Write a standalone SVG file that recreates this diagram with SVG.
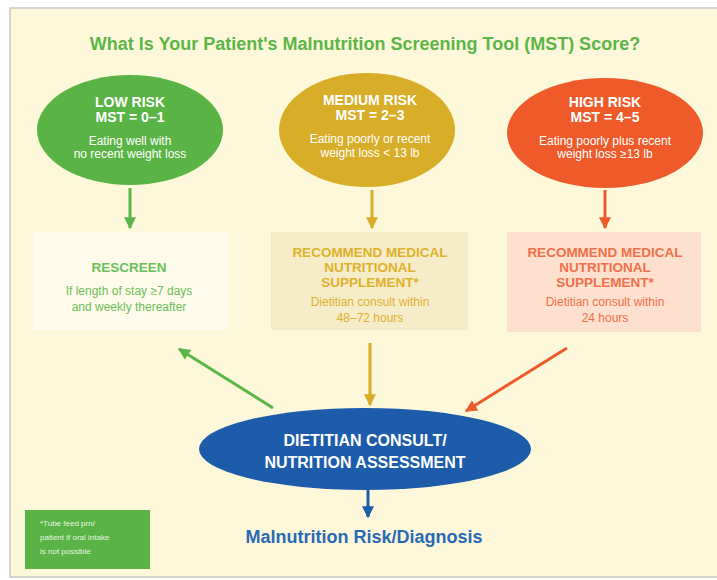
<svg xmlns="http://www.w3.org/2000/svg" width="717" height="580" viewBox="0 0 717 580">
  <defs>
    <style>
      .t { font-family: "Liberation Sans", Arial, sans-serif; text-anchor: middle; }
      .b { font-weight: bold; }
      .w { fill: #ffffff; }
      .head { font-size: 14px; }
      .sub { font-size: 12px; }
      .boxhead { font-size: 13.5px; }
    </style>
    <marker id="ahG" viewBox="0 0 10 10" refX="9" refY="5" markerWidth="4" markerHeight="4" orient="auto" markerUnits="strokeWidth">
      <path d="M0,0 L10,5 L0,10 z" fill="#5cb547"/>
    </marker>
    <marker id="ahY" viewBox="0 0 10 10" refX="9" refY="5" markerWidth="4" markerHeight="4" orient="auto" markerUnits="strokeWidth">
      <path d="M0,0 L10,5 L0,10 z" fill="#d8ad27"/>
    </marker>
    <marker id="ahO" viewBox="0 0 10 10" refX="9" refY="5" markerWidth="4" markerHeight="4" orient="auto" markerUnits="strokeWidth">
      <path d="M0,0 L10,5 L0,10 z" fill="#ee5a2a"/>
    </marker>
    <marker id="ahB" viewBox="0 0 10 10" refX="9" refY="5" markerWidth="4" markerHeight="4" orient="auto" markerUnits="strokeWidth">
      <path d="M0,0 L10,5 L0,10 z" fill="#1c5cab"/>
    </marker>
  </defs>

  <!-- page and panel -->
  <rect x="0" y="0" width="717" height="580" fill="#ffffff"/>
  <rect x="10" y="8" width="712" height="569" fill="#fdf8da" stroke="#c9c8c0" stroke-width="1.5"/>

  <text id="title" class="t b" x="365" y="50" font-size="18" fill="#5cb547">What Is Your Patient's Malnutrition Screening Tool (MST) Score?</text>

  <!-- risk level nodes -->
  <g id="low-risk">
    <ellipse cx="130" cy="130" rx="93" ry="55" fill="#5ab445"/>
    <text class="t b w head" x="130" y="107">LOW RISK</text>
    <text class="t b w head" x="130" y="122">MST = 0–1</text>
    <text class="t w sub" x="130" y="145">Eating well with</text>
    <text class="t w sub" x="130" y="158">no recent weight loss</text>
  </g>
  <g id="medium-risk">
    <ellipse cx="367" cy="130" rx="88" ry="57" fill="#d8ad27"/>
    <text class="t b w head" x="370" y="105">MEDIUM RISK</text>
    <text class="t b w head" x="370" y="120">MST = 2–3</text>
    <text class="t w sub" x="370" y="143">Eating poorly or recent</text>
    <text class="t w sub" x="370" y="157">weight loss &lt; 13 lb</text>
  </g>
  <g id="high-risk">
    <ellipse cx="605" cy="133" rx="98" ry="55" fill="#ee5a2a"/>
    <text class="t b w head" x="605" y="107">HIGH RISK</text>
    <text class="t b w head" x="605" y="122">MST = 4–5</text>
    <text class="t w sub" x="605" y="145">Eating poorly plus recent</text>
    <text class="t w sub" x="605" y="158">weight loss ≥13 lb</text>
  </g>

  <!-- action boxes -->
  <g id="rescreen">
    <rect x="33" y="232" width="195" height="98" fill="#fefbea"/>
    <text class="t b boxhead" x="129" y="272" fill="#6cc05a">RESCREEN</text>
    <text class="t sub" x="129" y="295" fill="#6cc05a">If length of stay ≥7 days</text>
    <text class="t sub" x="129" y="311" fill="#6cc05a">and weekly thereafter</text>
  </g>
  <g id="medium-action">
    <rect x="271" y="232" width="197" height="98" fill="#f7ecca"/>
    <text class="t b boxhead" x="370" y="257" fill="#deb12a">RECOMMEND MEDICAL</text>
    <text class="t b boxhead" x="370" y="272" fill="#deb12a">NUTRITIONAL</text>
    <text class="t b boxhead" x="370" y="287" fill="#deb12a">SUPPLEMENT*</text>
    <text class="t sub" x="370" y="306" fill="#deb12a">Dietitian consult within</text>
    <text class="t sub" x="370" y="322" fill="#deb12a">48–72 hours</text>
  </g>
  <g id="high-action">
    <rect x="507" y="232" width="194" height="100" fill="#fde0cd"/>
    <text class="t b boxhead" x="605" y="257" fill="#f0704a">RECOMMEND MEDICAL</text>
    <text class="t b boxhead" x="605" y="272" fill="#f0704a">NUTRITIONAL</text>
    <text class="t b boxhead" x="605" y="287" fill="#f0704a">SUPPLEMENT*</text>
    <text class="t sub" x="605" y="306" fill="#f0704a">Dietitian consult within</text>
    <text class="t sub" x="605" y="322" fill="#f0704a">24 hours</text>
  </g>

  <!-- assessment node -->
  <g id="assessment">
    <ellipse cx="365" cy="449" rx="166" ry="41" fill="#1c5cab"/>
    <text class="t b w" x="365" y="446" font-size="16">DIETITIAN CONSULT/</text>
    <text class="t b w" x="365" y="468" font-size="16">NUTRITION ASSESSMENT</text>
  </g>

  <g id="outcome">
    <text class="t b" x="364" y="543" font-size="18" fill="#2a69b5">Malnutrition Risk/Diagnosis</text>
  </g>

  <g id="footnote">
    <rect x="25" y="510" width="125" height="59" fill="#5ab445"/>
    <text font-family="Liberation Sans, Arial, sans-serif" font-size="8" fill="#ffffff" opacity="0.85">
      <tspan x="40" y="526">*Tube feed prn/</tspan>
      <tspan x="40" y="540">patient if oral intake</tspan>
      <tspan x="40" y="554">is not possible</tspan>
    </text>
  </g>

  <!-- connectors -->
  <g id="connectors" fill="none" stroke-width="3">
    <line x1="130" y1="188" x2="130" y2="228" stroke="#5cb547" marker-end="url(#ahG)"/>
    <line x1="372" y1="190" x2="372" y2="228" stroke="#d8ad27" marker-end="url(#ahY)"/>
    <line x1="605" y1="190" x2="605" y2="228" stroke="#ee5a2a" marker-end="url(#ahO)"/>
    <line x1="273" y1="408" x2="179" y2="349" stroke="#5cb547" marker-end="url(#ahG)"/>
    <line x1="370" y1="343" x2="370" y2="405" stroke="#d8ad27" marker-end="url(#ahY)"/>
    <line x1="567" y1="348" x2="466" y2="411" stroke="#ee5a2a" marker-end="url(#ahO)"/>
    <line x1="368" y1="490" x2="368" y2="517" stroke="#1c5cab" marker-end="url(#ahB)"/>
  </g>
</svg>
